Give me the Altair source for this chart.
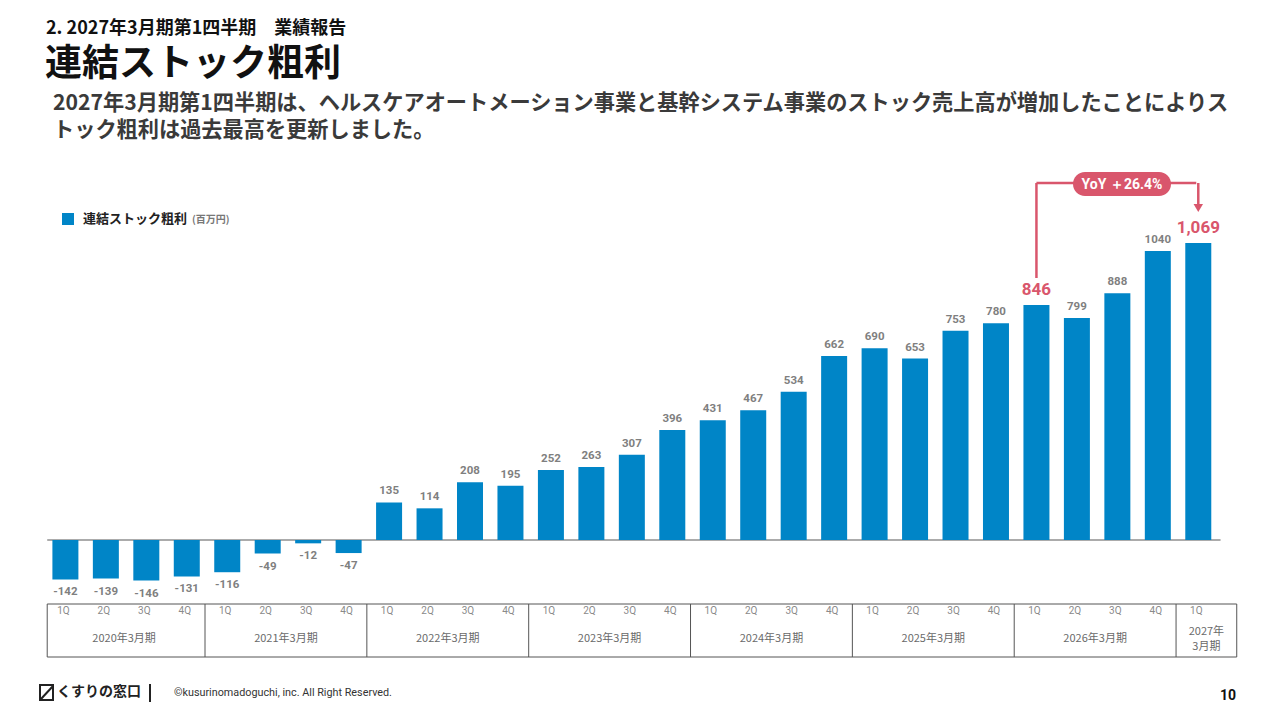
import altair as alt
import pandas as pd

# ---------------- data ----------------
quarters = ["1Q", "2Q", "3Q", "4Q"] * 7 + ["1Q"]
values = [-142, -139, -146, -131, -116, -49, -12, -47,
          135, 114, 208, 195, 252, 263, 307, 396,
          431, 467, 534, 662, 690, 653, 753, 780,
          846, 799, 888, 1040, 1069]
value_labels = ["-142", "-139", "-146", "-131", "-116", "-49", "-12", "-47",
                "135", "114", "208", "195", "252", "263", "307", "396",
                "431", "467", "534", "662", "690", "653", "753", "780",
                "846", "799", "888", "1040", "1,069"]
highlight_idx = [24, 28]
periods = ["2020年3月期", "2021年3月期", "2022年3月期", "2023年3月期",
           "2024年3月期", "2025年3月期", "2026年3月期"]
last_period = ["2027年", "3月期"]
section_title = "2. 2027年3月期第1四半期　業績報告"
main_title = "連結ストック粗利"
subtitle_lines = [
    "2027年3月期第1四半期は、ヘルスケアオートメーション事業と基幹システム事業のストック売上高が増加したことによりス",
    "トック粗利は過去最高を更新しました。",
]
legend_label = "連結ストック粗利"
legend_unit = "(百万円)"
yoy_text = "YoY ＋26.4%"
brand = "くすりの窓口"
copyright_text = "©kusurinomadoguchi, inc. All Right Reserved."
page_no = "10"

# ---------------- styling ----------------
FONT = "Noto Sans CJK JP"
NUMFONT = "Roboto"
BLUE = "#0085C7"
RED = "#D9566C"
GREY = "#7f7f7f"

n = len(values)
df = pd.DataFrame({
    "idx": list(range(n)),
    "value": values,
    "zero": [0] * n,
    "label": value_labels,
    "q": quarters,
    "hl": [i in highlight_idx for i in range(n)],
})
df["pos"] = df["value"] >= 0

X0, S = 55.4, 40.46
xs = alt.Scale(domain=[0, n - 1], range=[X0, X0 + S * (n - 1)],
               nice=False, zero=False, padding=0)
ZERO_Y, PPU = 532.0, 0.2778
ys = alt.Scale(domain=[-200, 1200], range=[ZERO_Y + 200 * PPU, ZERO_Y - 1200 * PPU],
               nice=False, zero=False, padding=0)


def X(f="idx:Q"):
    return alt.X(f, scale=xs, axis=None)


def Y(f="value:Q"):
    return alt.Y(f, scale=ys, axis=None)


base = alt.Chart(df)

bars = base.mark_bar(size=26, color=BLUE, xOffset=2).encode(
    x=X(), y=Y(), y2="zero:Q")

zl = pd.DataFrame({"a": [-0.4], "b": [28.6], "v": [0]})
zero_line = alt.Chart(zl).mark_rule(color="#ababab", strokeWidth=2).encode(
    x=X("a:Q"), x2="b:Q", y=Y("v:Q"))

pos_labels = base.transform_filter("datum.pos && !datum.hl").mark_text(
    font=NUMFONT, fontSize=11.5, fontWeight="bold", color=GREY,
    baseline="bottom", dy=-6, xOffset=2).encode(x=X(), y=Y(), text="label:N")
neg_labels = base.transform_filter("!datum.pos").mark_text(
    font=NUMFONT, fontSize=11.5, fontWeight="bold", color=GREY,
    baseline="top", dy=7, xOffset=2).encode(x=X(), y=Y(), text="label:N")
hl_labels = base.transform_filter("datum.hl").mark_text(
    font=NUMFONT, fontSize=17, fontWeight="bold", color=RED,
    baseline="bottom", dy=-6, xOffset=2).encode(x=X(), y=Y(), text="label:N")

# ---- table below the chart ----
TOP, BOT = 596, 649
bounds = [4 * k - 0.5 for k in range(1, len(periods) + 1)] + [-0.4, 29.0]
vlines = alt.Chart(pd.DataFrame({"b": bounds})).mark_rule(
    color="#555555", strokeWidth=1).encode(
    x=X("b:Q"), y=alt.value(TOP), y2=alt.value(BOT))
tb = pd.DataFrame({"a": [-0.4], "b": [29.0]})
hline_top = alt.Chart(tb).mark_rule(color="#555555", strokeWidth=1).encode(
    x=X("a:Q"), x2="b:Q", y=alt.value(TOP))
hline_bot = alt.Chart(tb).mark_rule(color="#555555", strokeWidth=1).encode(
    x=X("a:Q"), x2="b:Q", y=alt.value(BOT))
q_labels = base.mark_text(font=NUMFONT, fontSize=10, color="#8a8a8a").encode(
    x=X(), y=alt.value(603), text="q:N")
per_df = pd.DataFrame({"c": [4 * k + 1.5 for k in range(len(periods))], "t": periods})
p_labels = alt.Chart(per_df).mark_text(font=FONT, fontSize=11, color="#6a6a6a").encode(
    x=X("c:Q"), y=alt.value(631), text="t:N")
l1 = alt.Chart(pd.DataFrame({"c": [28.25], "t": [last_period[0]]})).mark_text(
    font=FONT, fontSize=11, color="#6a6a6a").encode(x=X("c:Q"), y=alt.value(624), text="t:N")
l2 = alt.Chart(pd.DataFrame({"c": [28.25], "t": [last_period[1]]})).mark_text(
    font=FONT, fontSize=11, color="#6a6a6a").encode(x=X("c:Q"), y=alt.value(639), text="t:N")

# ---- YoY annotation ----
ann = pd.DataFrame({"a": [highlight_idx[0]], "b": [highlight_idx[1]]})
ann_v1 = alt.Chart(ann).mark_rule(color=RED, strokeWidth=2.5, xOffset=2).encode(
    x=X("a:Q"), y=alt.value(270), y2=alt.value(175))
ann_h = alt.Chart(ann).mark_rule(color=RED, strokeWidth=2.5, xOffset=2).encode(
    x=X("a:Q"), x2="b:Q", y=alt.value(175))
ann_v2 = alt.Chart(ann).mark_rule(color=RED, strokeWidth=2.5, xOffset=2).encode(
    x=X("b:Q"), y=alt.value(175), y2=alt.value(196))
ann_tip = alt.Chart(ann).mark_point(shape="triangle-down", filled=True, color=RED,
                                    size=90, opacity=1, xOffset=2).encode(
    x=X("b:Q"), y=alt.value(200))
one = pd.DataFrame({"t": [yoy_text]})
pill = alt.Chart(one).mark_rect(color=RED, cornerRadius=12).encode(
    x=alt.value(1065), x2=alt.value(1163), y=alt.value(164), y2=alt.value(188))
pill_txt = alt.Chart(one).mark_text(
    font=NUMFONT, fontSize=14, fontWeight="bold", color="white").encode(
    x=alt.value(1114), y=alt.value(176.5), text="t:N")


# ---- header texts ----
def txt(s, x, y, size, color="#111111", weight="bold", font=FONT, align="left"):
    return alt.Chart(pd.DataFrame({"t": [s]})).mark_text(
        font=font, fontSize=size, fontWeight=weight, color=color,
        align=align, baseline="middle").encode(
        x=alt.value(x), y=alt.value(y), text="t:N")


hdr1 = txt(section_title, 38, 20.5, 18)
hdr2 = txt(main_title, 37, 56.5, 37)
sub1 = txt(subtitle_lines[0], 45, 95.5, 21.2, color="#3a3a3a")
sub2 = txt(subtitle_lines[1], 45, 122.5, 21.2, color="#3a3a3a")

# legend
leg_sq = alt.Chart(one).mark_rect(color=BLUE).encode(
    x=alt.value(54), x2=alt.value(66), y=alt.value(205), y2=alt.value(217))
leg_t = txt(legend_label, 75, 211, 13, color="#222222")
leg_u = txt(legend_unit, 184, 212, 10, color="#777777")

# footer
logo_box = alt.Chart(one).mark_rect(fill="white", stroke="#222222", strokeWidth=2).encode(
    x=alt.value(32), x2=alt.value(45), y=alt.value(677), y2=alt.value(692))
logo_diag = alt.Chart(one).mark_rule(color="#222222", strokeWidth=2).encode(
    x=alt.value(33), x2=alt.value(45), y=alt.value(691), y2=alt.value(678))
logo_t = txt(brand, 49, 684, 14, color="#222222")
sep = alt.Chart(one).mark_rule(color="#222222", strokeWidth=2).encode(
    x=alt.value(142), y=alt.value(676), y2=alt.value(694))
copy_t = txt(copyright_text, 166, 685, 10.8, color="#333333", weight="normal", font=NUMFONT)
page_t = txt(page_no, 1228, 688, 14, color="#111111", font=NUMFONT, align="right")

chart = alt.layer(
    zero_line, bars, pos_labels, neg_labels, hl_labels,
    hline_top, hline_bot, vlines, q_labels, p_labels, l1, l2,
    ann_v1, ann_h, ann_v2, ann_tip, pill, pill_txt,
    hdr1, hdr2, sub1, sub2, leg_sq, leg_t, leg_u,
    logo_box, logo_diag, logo_t, sep, copy_t, page_t,
).properties(
    width=1264, height=700, padding=0, autosize="none", background="white"
).configure_view(stroke=None)

chart.save("out.html", embed_options={"renderer": "svg", "actions": False})
